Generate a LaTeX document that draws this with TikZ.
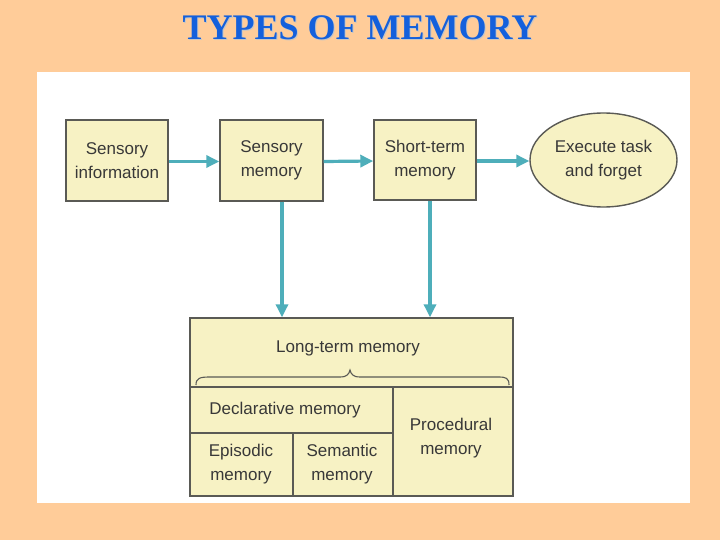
\documentclass[tikz,border=0pt]{standalone}
\usepackage{fontspec}
\setmainfont{Liberation Sans}
\newfontfamily\titlefont{Liberation Serif}
\usetikzlibrary{shapes.geometric,arrows.meta}
\definecolor{peach}{HTML}{FFCC99}
\definecolor{boxfill}{HTML}{F7F2C4}
\definecolor{boxline}{HTML}{5A5A55}
\definecolor{teal}{HTML}{4EAEBA}
\definecolor{txt}{HTML}{383838}
\definecolor{titleblue}{HTML}{1460DC}
\tikzset{
  box/.style={draw=boxline, fill=boxfill, line width=1.4pt, align=center, text=txt,
    font=\fontsize{17}{24}\selectfont, inner sep=0pt},
  lbl/.style={align=center, text=txt, font=\fontsize{17}{24}\selectfont, inner sep=0pt},
  arr/.style={draw=teal, line width=3.2pt, -{Triangle[length=13pt,width=12pt]}},
  inner/.style={draw=boxline, line width=1.4pt}
}
\begin{document}
\begin{tikzpicture}[x=1pt,y=-1pt]
\fill[peach] (0,0) rectangle (720,540);
\useasboundingbox (0,0) rectangle (720,540);
\fill[white] (37,72) rectangle (690,503);
% title
\node[font=\titlefont\bfseries\fontsize{36}{40}\selectfont, text=gray!45, anchor=base] (titleshadow) at (361,41) {TYPES OF MEMORY};
\node[font=\titlefont\bfseries\fontsize{36}{40}\selectfont, text=titleblue, anchor=base] (title) at (360,40) {TYPES OF MEMORY};
% top row
\node[box, minimum width=102pt, minimum height=81pt] (sinfo) at (117,160.5) {Sensory\\information};
\node[box, minimum width=103pt, minimum height=81pt] (smem) at (271.5,160.5) {Sensory\\memory};
\node[box, minimum width=102pt, minimum height=80pt] (stm) at (425,160) {Short-term\\memory};
\node[box, ellipse, minimum width=147pt, minimum height=94pt] (exec) at (603.5,160) {Execute task\\and forget};
% long-term box
\node[box, minimum width=323pt, minimum height=178pt] (ltm) at (351.5,407) {};
% arrows
\draw[arr] ([yshift=-1pt]sinfo.east) -- ([yshift=-1pt]smem.west);
\draw[arr] ([yshift=-1pt]smem.east) -- ([yshift=-1pt]stm.west);
\draw[arr] ([yshift=-1pt]stm.east) -- ([yshift=-1pt]exec.west);
\draw[arr] ([xshift=10.5pt]smem.south) -- ([xshift=10.5pt]smem.south |- ltm.north);
\draw[arr] ([xshift=5pt]stm.south) -- ([xshift=5pt]stm.south |- ltm.north);
% inner structure
\coordinate (hl) at (190,387);
\coordinate (hr) at (513,387);
\coordinate (vt) at (393,387);
\coordinate (vb) at (393,496);
\coordinate (dl) at (190,433);
\coordinate (dr) at (393,433);
\coordinate (et) at (293,433);
\coordinate (eb) at (293,496);
\draw[inner] (hl) -- (hr);
\draw[inner] (vt) -- (vb);
\draw[inner] (dl) -- (dr);
\draw[inner] (et) -- (eb);
% brace
\draw[draw=boxline, line width=1.1pt] (196,385) .. controls (196,378) and (200,377) .. (210,377)
  -- (340,377) .. controls (347,377) and (349,374) .. (350,370)
  .. controls (351,374) and (353,377) .. (360,377) -- (498,377)
  .. controls (506,377) and (509,378) .. (509,385);
\node[lbl] (ltmlbl) at (348,348) {Long-term memory};
\node[lbl] (decl) at (285,410) {Declarative memory};
\node[lbl] (epi) at (241,464) {Episodic\\memory};
\node[lbl] (sem) at (342,464) {Semantic\\memory};
\node[lbl] (proc) at (451,438) {Procedural\\memory};
\end{tikzpicture}
\end{document}
